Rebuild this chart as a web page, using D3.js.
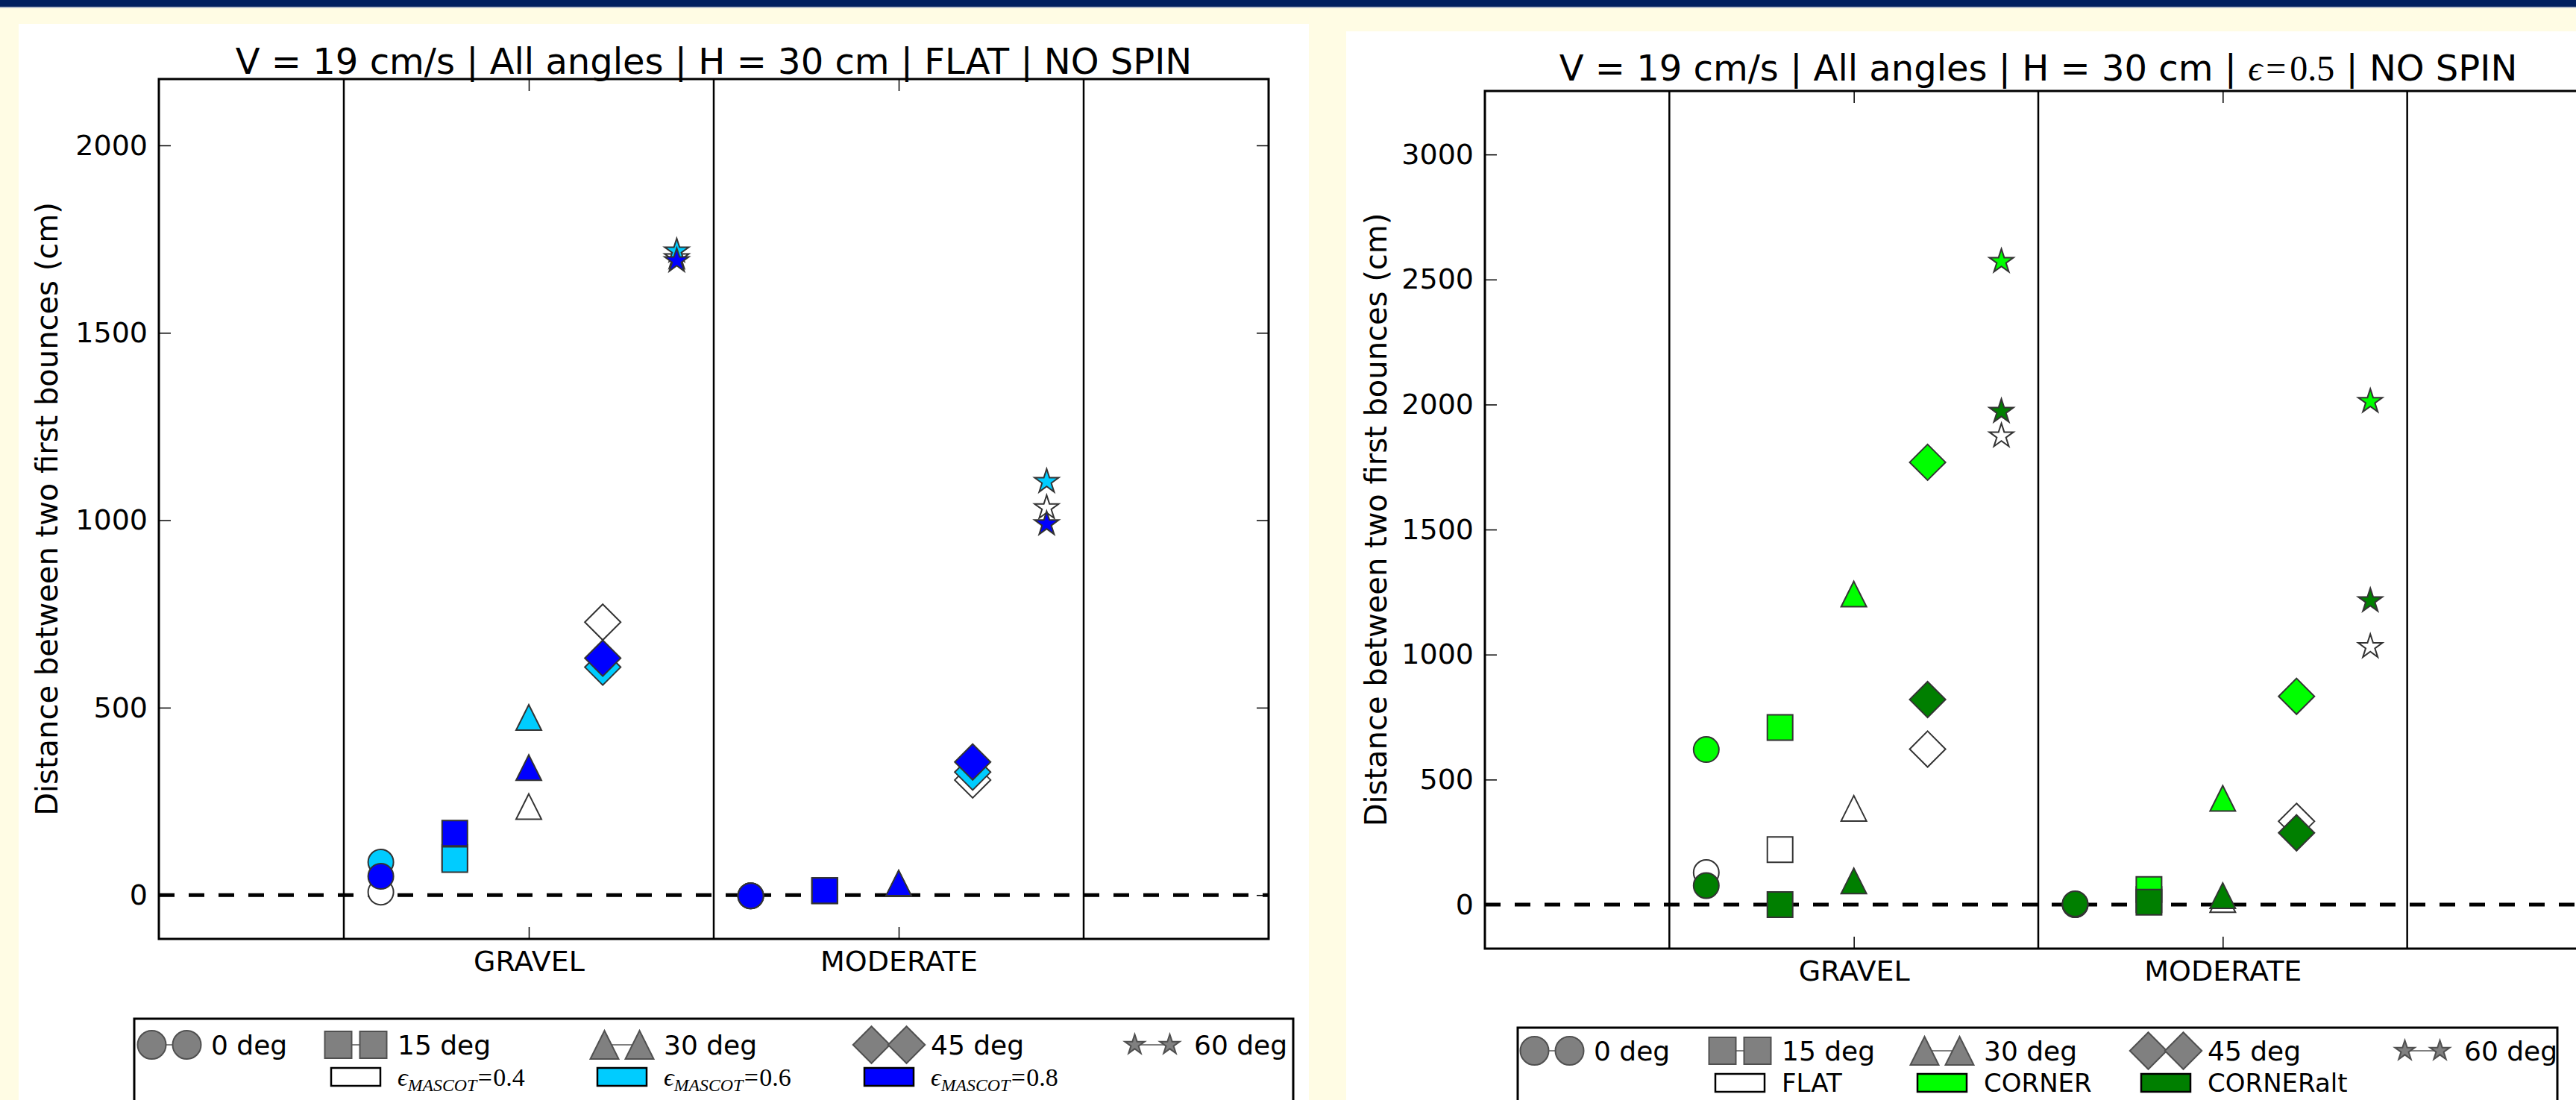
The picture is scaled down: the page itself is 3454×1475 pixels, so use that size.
<!DOCTYPE html>
<html>
<head>
<meta charset="utf-8">
<script src="https://cdn.jsdelivr.net/npm/d3@7"></script>
<style>
  html, body { margin: 0; padding: 0; background: #fffce4; overflow: hidden; }
  svg { display: block; }
  text { font-family: "DejaVu Sans", sans-serif; fill: #000; }
</style>
</head>
<body>
<svg id="chart" width="3454" height="1475"></svg>
<script>
// ---- data ----
const categories = ['GRAVEL', 'MODERATE'];
const angleLabels = ['0 deg', '15 deg', '30 deg', '45 deg', '60 deg'];
const angleShapes = ['circle', 'square', 'triangle', 'diamond', 'star'];
const angleOffsets = [-0.4, -0.2, 0, 0.2, 0.4];
const dividers = [0.5, 1.5, 2.5];
const yTicksLeft = [0, 500, 1000, 1500, 2000];
const yTicksRight = [0, 500, 1000, 1500, 2000, 2500, 3000];

// left figure, per series: [GRAVEL values by angle, MODERATE values by angle]
const mascot04 = [[8, 100, 236, 728, 1700], [-2, 12, 30, 307, 1033]];
const mascot06 = [[88, 95, 474, 608, 1718], [-2, 12, 30, 328, 1103]];
const mascot08 = [[50, 165, 340, 632, 1692], [-2, 12, 32, 355, 990]];
const mascotLabels = ['0.4', '0.6', '0.8'];
const mascotColors = ['#ffffff', '#00ccff', '#0000ff'];

// right figure
const flatVals = [[128, 220, 385, 622, 1874], [0, 20, 20, 333, 1031]];
const cornerVals = [[620, 708, 1242, 1769, 2572], [0, 60, 425, 833, 2012]];
const cornerAltVals = [[76, 0, 95, 820, 1972], [3, 10, 36, 287, 1215]];
const shapeLabels = ['FLAT', 'CORNER', 'CORNERalt'];
const shapeColors = ['#ffffff', '#00ff00', '#007f00'];

const yLabel = 'Distance between two first bounces (cm)';

const svg = d3.select('#chart');

// page decoration
svg.append('rect').attr('width', 3454).attr('height', 1475).attr('fill', '#fffce4');
svg.append('rect').attr('width', 3454).attr('height', 9).attr('fill', '#012060');
svg.append('rect').attr('y', 9).attr('width', 3454).attr('height', 2).attr('fill', '#b9c0cc');

// marker shapes, ms = matplotlib-like marker size in px
function markerPath(shape, ms) {
    const p = d3.path();
    const h = ms / 2;
    if (shape === 'circle') {
        p.arc(0, 0, h, 0, 2 * Math.PI);
    } else if (shape === 'square') {
        p.rect(-h, -h, ms, ms);
    } else if (shape === 'triangle') {
        p.moveTo(0, -h); p.lineTo(h, h); p.lineTo(-h, h);
    } else if (shape === 'diamond') {
        const d = ms / Math.SQRT2;
        p.moveTo(0, -d); p.lineTo(d, 0); p.lineTo(0, d); p.lineTo(-d, 0);
    } else {
        for (let i = 0; i < 10; i++) {
            const r = i % 2 === 0 ? h : h * 0.381966;
            const a = -Math.PI / 2 + i * Math.PI / 5;
            if (i === 0) p.moveTo(r * Math.cos(a), r * Math.sin(a));
            else p.lineTo(r * Math.cos(a), r * Math.sin(a));
        }
    }
    p.closePath();
    return p.toString();
}

const legendSizes = [38, 36, 38, 35, 28];
const serif = '"Liberation Serif", "DejaVu Serif", serif';

function mathLabel(sel, sub, value, size, gap) {
    sel.append('tspan').attr('font-family', serif).attr('font-style', 'italic').text('\u03f5');
    if (sub) {
        sel.append('tspan').attr('font-family', serif).attr('font-style', 'italic')
            .attr('font-size', size * 0.7).attr('dy', size * 0.22).text(sub);
    }
    sel.append('tspan').attr('font-family', serif)
        .attr('dx', size * gap).attr('dy', sub ? -size * 0.22 : 0).text('=');
    sel.append('tspan').attr('font-family', serif).attr('dx', size * gap).text(value);
}

function drawPanel(p) {
    const g = svg.append('g');
    const x = d3.scaleLinear().domain([0, 3]).range([p.left, p.right]);
    const y = d3.scaleLinear().domain(p.yDomain).range([p.bottom, p.top]);

    // white panel
    g.append('rect').attr('x', p.panel[0]).attr('y', p.panel[1])
        .attr('width', p.panel[2]).attr('height', 1475 - p.panel[1]).attr('fill', '#fff');

    const clipId = 'clip-' + p.id;
    svg.append('clipPath').attr('id', clipId).append('rect')
        .attr('x', p.left).attr('y', p.top).attr('width', p.right - p.left).attr('height', p.bottom - p.top);

    // title
    const title = g.append('text').attr('x', (p.left + p.right) / 2).attr('y', p.titleY)
        .attr('text-anchor', 'middle').attr('font-size', 48);
    title.append('tspan').text(p.titleStart);
    if (p.titleEps) mathLabel(title, null, p.titleEps, 48, 0.1);
    title.append('tspan').text(p.titleEnd);

    // y label
    g.append('text')
        .attr('transform', `translate(${p.labelX},${(p.top + p.bottom) / 2}) rotate(-90)`)
        .attr('text-anchor', 'middle').attr('dy', '0.35em').attr('font-size', 40)
        .text(yLabel);

    // category dividers
    g.selectAll('.divider').data(dividers).join('line')
        .attr('class', 'divider')
        .attr('x1', d => x(d)).attr('x2', d => x(d))
        .attr('y1', p.top).attr('y2', p.bottom)
        .attr('stroke', '#000').attr('stroke-width', 2.5);

    // zero line
    g.append('line')
        .attr('x1', p.left).attr('x2', p.right).attr('y1', y(0)).attr('y2', y(0))
        .attr('stroke', '#000').attr('stroke-width', 5).attr('stroke-dasharray', '21 19');

    // axes with inward ticks
    const styleAxis = a => {
        a.select('.domain').remove();
        a.selectAll('.tick line').attr('stroke', '#000').attr('stroke-width', 1.5);
        a.selectAll('.tick text').attr('font-size', 38)
            .attr('font-family', '"DejaVu Sans", sans-serif').attr('fill', '#000');
    };
    g.append('g').call(d3.axisLeft(y).tickValues(p.yTicks).tickFormat(d3.format('d'))
            .tickSizeInner(-16).tickSizeOuter(0).tickPadding(15))
        .attr('transform', `translate(${p.left},0)`).call(styleAxis);
    g.append('g').call(d3.axisRight(y).tickValues(p.yTicks).tickSizeInner(-16).tickSizeOuter(0).tickFormat(''))
        .attr('transform', `translate(${p.right},0)`).call(styleAxis);
    g.append('g').call(d3.axisBottom(x).tickValues([1, 2]).tickFormat((d, i) => categories[i])
            .tickSizeInner(-16).tickSizeOuter(0).tickPadding(p.catPad))
        .attr('transform', `translate(0,${p.bottom})`).call(styleAxis);
    g.append('g').call(d3.axisTop(x).tickValues([1, 2]).tickFormat('').tickSizeInner(-16).tickSizeOuter(0))
        .attr('transform', `translate(0,${p.top})`).call(styleAxis);

    // points
    const points = [];
    p.series.forEach((s, si) => s.forEach((vals, ci) => vals.forEach((v, ai) => {
        points.push({ si: si, ci: ci, ai: ai, v: v });
    })));
    g.append('g').attr('clip-path', `url(#${clipId})`)
        .selectAll('path').data(points).join('path')
        .attr('transform', d => `translate(${x(d.ci + 1 + angleOffsets[d.ai])},${y(d.v)})`)
        .attr('d', d => markerPath(angleShapes[d.ai], 34))
        .attr('fill', d => p.colors[d.si])
        .attr('stroke', '#333').attr('stroke-width', 2);

    // frame
    g.append('rect').attr('x', p.left).attr('y', p.top)
        .attr('width', p.right - p.left).attr('height', p.bottom - p.top)
        .attr('fill', 'none').attr('stroke', '#000').attr('stroke-width', 3);

    // legend
    const L = p.legend;
    const lg = g.append('g').attr('transform', `translate(${L.x},${L.y})`);
    lg.append('rect').attr('width', L.w).attr('height', 200)
        .attr('fill', '#fff').attr('stroke', '#000').attr('stroke-width', 3);
    angleLabels.forEach((lab, i) => {
        const cx = L.centers[i], cy = L.rows[0];
        lg.append('line').attr('x1', cx - 23).attr('x2', cx + 23).attr('y1', cy).attr('y2', cy)
            .attr('stroke', '#808080').attr('stroke-width', 2);
        [-23.5, 23.5].forEach(dx => {
            lg.append('path').attr('transform', `translate(${cx + dx},${cy})`)
                .attr('d', markerPath(angleShapes[i], legendSizes[i]))
                .attr('fill', '#808080').attr('stroke', '#505050').attr('stroke-width', 2);
        });
        lg.append('text').attr('x', cx + 56).attr('y', cy).attr('dy', '0.35em')
            .attr('font-size', 36).text(lab);
    });
    p.seriesLabels.forEach((lab, i) => {
        const cx = L.centers[i + 1], cy = L.rows[1];
        lg.append('rect').attr('x', cx - 33).attr('y', cy - 12).attr('width', 66).attr('height', 24)
            .attr('fill', p.colors[i]).attr('stroke', '#000').attr('stroke-width', 2.5);
        const t = lg.append('text').attr('x', cx + 56).attr('y', cy).attr('dy', '0.35em')
            .attr('font-size', p.mathLegend ? 34 : 34);
        if (p.mathLegend) mathLabel(t, 'MASCOT', lab, 34, 0.04);
        else t.text(lab);
    });
}

drawPanel({
    id: 'left',
    panel: [25, 32, 1730],
    left: 213, right: 1701, top: 106, bottom: 1259,
    yDomain: [-117, 2177], yTicks: yTicksLeft,
    titleY: 99, titleStart: 'V = 19 cm/s | All angles | H = 30 cm | FLAT | NO SPIN', titleEps: null, titleEnd: '',
    labelX: 63, catPad: 16,
    series: [mascot04, mascot06, mascot08], colors: mascotColors,
    seriesLabels: mascotLabels, mathLegend: true,
    legend: { x: 180, y: 1366, w: 1554, centers: [227, 477, 834, 1192, 1545].map(v => v - 180), rows: [35, 78] }
});

drawPanel({
    id: 'right',
    panel: [1805, 42, 1649],
    left: 1991, right: 3475, top: 122, bottom: 1272,
    yDomain: [-176, 3254], yTicks: yTicksRight,
    titleY: 108, titleStart: 'V = 19 cm/s | All angles | H = 30 cm | ', titleEps: '0.5', titleEnd: ' | NO SPIN',
    labelX: 1845, catPad: 16,
    series: [flatVals, cornerVals, cornerAltVals], colors: shapeColors,
    seriesLabels: shapeLabels, mathLegend: false,
    legend: { x: 2035, y: 1378, w: 1394, centers: [2081, 2333, 2604, 2904, 3248].map(v => v - 2035), rows: [31, 74] }
});
</script>
</body>
</html>
